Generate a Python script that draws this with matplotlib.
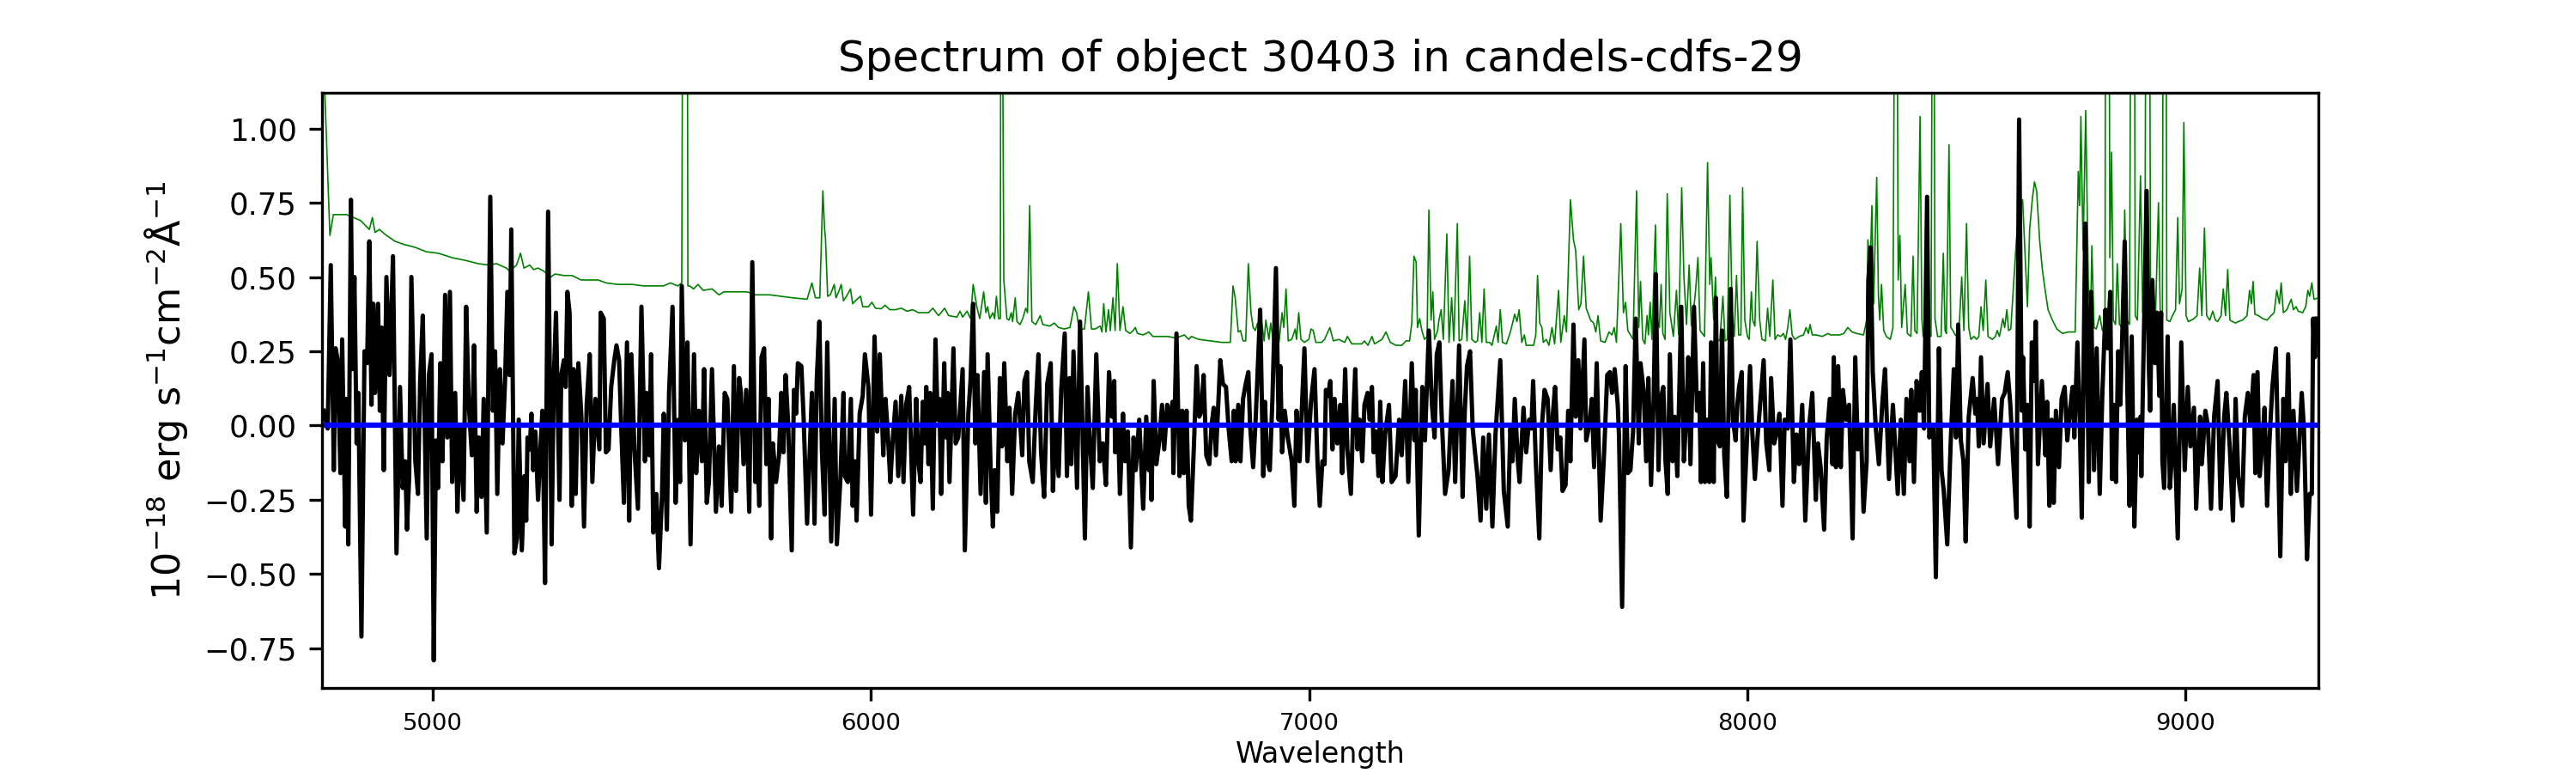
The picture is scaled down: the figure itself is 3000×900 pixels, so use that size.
import matplotlib
matplotlib.use('Agg')
import matplotlib.pyplot as plt
import numpy as np

# object spectrum (black), in 1e-18 erg/s/cm2/A
black_wave = [
    4751, 4760, 4767, 4774, 4778, 4783, 4789, 4793, 4800, 4803,
    4807, 4813, 4817, 4821, 4826, 4830, 4837, 4844, 4850, 4855,
    4860, 4864, 4868, 4875, 4879, 4883, 4888, 4894, 4901, 4909,
    4917, 4925, 4931, 4937, 4941, 4946, 4951, 4960, 4966, 4971,
    4977, 4986, 4991, 4997, 5002, 5007, 5012, 5017, 5022, 5028,
    5033, 5039, 5044, 5051, 5056, 5062, 5070, 5076, 5082, 5089,
    5094, 5100, 5105, 5111, 5116, 5123, 5131, 5137, 5142, 5147,
    5153, 5159, 5165, 5170, 5175, 5179, 5186, 5192, 5196, 5203,
    5209, 5213, 5216, 5221, 5225, 5229, 5234, 5240, 5245, 5250,
    5256, 5263, 5271, 5276, 5281, 5289, 5293, 5299, 5303, 5307,
    5312, 5317, 5321, 5326, 5332, 5339, 5345, 5351, 5358, 5364,
    5371, 5380, 5383, 5390, 5395, 5401, 5407, 5414, 5419, 5425,
    5430, 5436, 5443, 5448, 5453, 5460, 5468, 5476, 5484, 5488,
    5494, 5498, 5503, 5510, 5516, 5523, 5527, 5534, 5539, 5547,
    5554, 5560, 5564, 5568, 5575, 5581, 5588, 5596, 5601, 5607,
    5614, 5619, 5625, 5630, 5637, 5646, 5653,
    5659, 5666, 5672, 5681, 5687, 5692, 5699, 5703, 5709, 5715,
    5722, 5729, 5736, 5739, 5745, 5750, 5756, 5761, 5766, 5772,
    5776, 5783, 5790, 5795, 5800, 5805, 5811, 5819, 5824, 5829,
    5833, 5841, 5846, 5854, 5865, 5871, 5876, 5882, 5888, 5894,
    5900, 5909, 5917, 5922, 5930, 5937, 5940, 5947, 5954, 5958,
    5963, 5967, 5974, 5981, 5986, 5994, 6000, 6008, 6014, 6020,
    6028, 6033, 6038, 6044, 6049, 6056, 6062, 6069, 6074, 6080,
    6087, 6096, 6103,
    6108, 6113, 6118, 6123, 6126, 6131, 6135, 6141, 6147, 6152,
    6156, 6160, 6167, 6171, 6175, 6179, 6188, 6193, 6199, 6209,
    6214, 6222, 6227, 6233, 6238, 6243, 6250, 6258, 6262, 6266,
    6273, 6278, 6282, 6288, 6294, 6299, 6304, 6311, 6316, 6322,
    6329, 6336, 6345, 6350, 6356, 6361, 6369, 6376, 6382, 6388,
    6395, 6402, 6410, 6415, 6421, 6428, 6434, 6442, 6447, 6453,
    6457, 6462, 6470, 6477, 6488, 6494, 6499, 6506, 6514, 6522,
    6529, 6536, 6543, 6550, 6555,
    6557, 6564, 6568, 6575, 6580, 6586, 6593, 6599, 6604, 6612,
    6621, 6628, 6634, 6637, 6640, 6645, 6651, 6658, 6664, 6669,
    6676, 6681, 6688, 6690, 6697, 6704, 6710, 6714, 6720, 6725,
    6730, 6737, 6743, 6749, 6754, 6759, 6765, 6772, 6777, 6782,
    6787, 6797, 6803, 6810, 6816, 6823, 6828, 6832, 6838, 6843,
    6849, 6855, 6861, 6865, 6872, 6878, 6888, 6895, 6899, 6904,
    6910, 6916, 6924, 6930, 6934, 6938, 6944, 6951, 6960, 6966,
    6971, 6978, 6983, 6989, 6996,
    7004, 7012, 7019, 7024, 7030, 7035, 7038, 7043, 7048, 7053,
    7058, 7064, 7071, 7075, 7082, 7087, 7095, 7100, 7105, 7110,
    7115, 7121, 7126, 7133, 7138, 7143, 7147, 7153, 7158, 7162,
    7167, 7173, 7182, 7188, 7197, 7205, 7211, 7219, 7226, 7234,
    7240, 7243, 7250, 7258, 7264, 7269, 7273, 7280, 7286, 7291,
    7297, 7302, 7310, 7318, 7327, 7333, 7342, 7350, 7355, 7360,
    7367, 7373, 7379, 7384, 7391, 7397, 7404, 7410, 7418, 7425,
    7436, 7444, 7453,
    7459, 7464, 7469, 7476, 7480, 7489, 7495, 7502, 7507, 7511,
    7517, 7525, 7531, 7537, 7544, 7551, 7556, 7561, 7567, 7573,
    7578, 7585, 7591, 7596, 7603, 7608, 7614, 7619, 7628, 7632,
    7639, 7645, 7650, 7656, 7665, 7673, 7680, 7686, 7691, 7697,
    7704, 7707, 7714, 7722, 7727, 7733, 7739, 7745, 7752, 7756,
    7763, 7769, 7774, 7780, 7786, 7791, 7797, 7802, 7808, 7813,
    7818, 7823, 7829, 7834, 7840, 7849, 7855, 7861, 7865, 7870,
    7878, 7885, 7890, 7894, 7899,
    7903, 7908, 7913, 7917, 7923, 7928, 7932, 7937, 7942, 7947,
    7953, 7962, 7967, 7973, 7977, 7981, 7987, 7991, 7998, 8006,
    8011, 8017, 8023, 8030, 8037, 8043, 8050, 8054, 8061, 8067,
    8073, 8080, 8085, 8092, 8098, 8106, 8112, 8118, 8125, 8132,
    8141, 8148, 8156, 8161, 8167, 8175, 8181, 8188, 8194, 8197,
    8202, 8207, 8213, 8218, 8225, 8232, 8240, 8246, 8252, 8259,
    8265, 8272, 8276, 8281, 8286, 8293, 8300, 8308, 8314, 8323,
    8332, 8343, 8350, 8357,
    8363, 8370, 8374, 8380, 8386, 8393, 8398, 8403, 8410, 8415,
    8424, 8430, 8437, 8443, 8448, 8456, 8464, 8471, 8476, 8481,
    8487, 8493, 8498, 8505, 8514, 8520, 8524, 8528, 8533, 8539,
    8548, 8554, 8563, 8572, 8581, 8587, 8594, 8600, 8607, 8614,
    8620, 8626, 8629, 8634, 8639, 8644, 8649, 8654, 8658, 8663,
    8672, 8680, 8684, 8689, 8694, 8699, 8704, 8711, 8717, 8724,
    8730, 8736, 8742, 8746, 8753, 8758, 8763, 8771, 8779, 8784,
    8791, 8797, 8804,
    8810, 8817, 8822, 8828, 8832, 8836, 8841, 8846, 8851, 8855,
    8861, 8867, 8872, 8877, 8883, 8889, 8893, 8897, 8899, 8903,
    8911, 8916, 8919, 8924, 8930, 8935, 8940, 8944, 8947, 8951,
    8954, 8959, 8964, 8968, 8973, 8982, 8990, 8998, 9005, 9011,
    9019, 9024, 9033, 9037, 9045, 9051, 9058, 9065, 9073, 9080,
    9088, 9093, 9101, 9108, 9114, 9120, 9129, 9135, 9142, 9148,
    9155, 9159, 9164, 9169, 9174, 9180, 9186, 9191, 9198, 9206,
    9216, 9223, 9228, 9234, 9240, 9246, 9254, 9259, 9265, 9270,
    9277, 9283, 9288, 9291, 9295, 9299,
]
black_flux = [
    0.05, -0.01, 0.54, -0.15, 0.26, 0.22, -0.16, 0.29, -0.34, 0.09,
    -0.40, 0.76, 0.19, 0.50, -0.06, 0.11, -0.71, 0.25, 0.21, 0.62,
    0.07, 0.41, 0.11, 0.41, 0.05, 0.33, -0.15, 0.50, 0.17, 0.57,
    -0.43, 0.13, -0.21, -0.12, -0.35, -0.17, 0.50, -0.12, -0.23, 0.15,
    0.37, -0.38, 0.17, 0.24, -0.79, -0.05, -0.21, 0.21, -0.12, 0.44,
    -0.04, 0.45, -0.19, 0.11, -0.29, 0.00, -0.25, 0.40, 0.07, -0.10,
    0.27, -0.29, -0.04, -0.24, 0.09, -0.36, 0.77, 0.05, 0.25, -0.23,
    0.19, -0.06, 0.16, 0.45, 0.17, 0.66, -0.43, -0.38, 0.02, -0.42,
    -0.17, -0.32, -0.04, -0.08, 0.04, -0.15, -0.02, -0.25, -0.09, 0.05,
    -0.53, 0.72, -0.40, 0.16, 0.38, -0.25, 0.17, 0.22, 0.13, 0.45,
    0.38, -0.27, 0.19, -0.23, 0.21, 0.03, -0.34, 0.07, 0.24, -0.19,
    0.09, -0.08, 0.38, 0.36, -0.09, -0.08, 0.13, 0.22, 0.27, 0.22,
    -0.01, -0.26, 0.28, -0.32, 0.24, -0.08, -0.28, 0.40, -0.12, 0.11,
    -0.10, 0.24, -0.36, -0.23, -0.48, -0.23, 0.04, -0.35, 0.11, 0.40,
    -0.26, 0.02, -0.19, 0.47, -0.05, 0.28, -0.40, 0.24, -0.16, 0.05,
    -0.12, 0.19, -0.26, -0.19, 0.19, -0.29, -0.07,
    -0.27, 0.11, 0.09, -0.29, 0.20, -0.22, 0.16, 0.11, -0.13, 0.12,
    -0.29, 0.55, -0.19, -0.01, -0.27, 0.23, 0.26, -0.13, 0.09, -0.38,
    -0.06, -0.19, -0.10, 0.11, -0.09, 0.17, 0.00, -0.42, 0.12, 0.04,
    0.21, 0.20, 0.03, -0.33, 0.11, -0.33, 0.15, 0.35, -0.09, -0.30,
    0.28, -0.39, 0.09, -0.40, -0.18, 0.11, -0.17, -0.19, 0.09, -0.27,
    -0.12, -0.32, 0.04, 0.10, 0.24, 0.13, -0.30, 0.30, -0.02, 0.24,
    -0.10, 0.09, -0.02, -0.19, -0.06, 0.08, -0.17, 0.10, -0.19, 0.07,
    0.13, -0.30, 0.09,
    -0.12, -0.19, 0.08, -0.06, 0.13, -0.13, 0.11, -0.28, 0.29, 0.02,
    0.09, -0.23, 0.21, -0.04, 0.11, -0.19, 0.26, -0.06, -0.04, 0.19,
    -0.42, 0.04, 0.15, 0.41, -0.06, 0.17, -0.23, 0.18, -0.26, 0.24,
    -0.15, -0.34, -0.15, -0.29, 0.16, -0.07, 0.21, -0.12, 0.06, -0.23,
    0.04, 0.11, -0.10, 0.15, 0.18, -0.12, -0.19, 0.07, 0.24, -0.09,
    -0.24, 0.14, 0.21, -0.22, 0.00, -0.17, 0.12, 0.31, -0.17, 0.16,
    -0.13, 0.25, -0.21, 0.35, -0.38, 0.13, -0.04, -0.21, 0.24, -0.12,
    -0.06, -0.20, 0.18, 0.03, 0.15,
    -0.09, -0.01, -0.23, 0.04, -0.12, -0.02, -0.41, -0.04, -0.15, 0.02,
    -0.28, 0.03, -0.15, -0.01, -0.25, 0.15, -0.13, -0.05, 0.07, -0.08,
    0.07, 0.00, 0.08, -0.16, 0.31, -0.17, 0.05, -0.16, 0.05, -0.27,
    -0.32, -0.06, 0.20, 0.03, 0.05, 0.17, -0.10, -0.13, 0.00, 0.06,
    -0.10, 0.22, 0.14, 0.13, -0.01, -0.12, 0.05, -0.12, 0.07, -0.12,
    0.09, 0.14, 0.18, 0.00, -0.14, 0.03, 0.39, -0.17, 0.08, -0.12,
    -0.15, 0.09, 0.53, 0.02, 0.20, -0.09, 0.05, -0.04, -0.12, -0.27,
    0.05, -0.12, 0.05, 0.26, -0.12,
    0.08, 0.19, -0.13, -0.27, -0.12, -0.13, 0.12, 0.10, 0.15, -0.08,
    0.09, -0.06, 0.07, -0.16, 0.19, -0.08, -0.23, 0.01, 0.19, -0.08,
    0.02, -0.12, 0.07, 0.11, 0.02, 0.13, -0.09, -0.02, -0.17, 0.08,
    -0.19, -0.03, 0.07, -0.19, -0.17, 0.02, -0.10, 0.15, -0.19, 0.21,
    -0.05, 0.12, -0.37, 0.13, -0.05, 0.16, 0.32, 0.07, -0.04, 0.24,
    0.28, 0.04, -0.23, -0.15, 0.15, -0.19, 0.27, -0.24, 0.05, 0.20,
    0.25, -0.01, -0.10, -0.17, -0.32, -0.04, -0.28, -0.03, -0.34, -0.03,
    0.22, -0.22, -0.34,
    -0.01, -0.12, 0.09, -0.12, -0.19, 0.06, -0.09, 0.02, -0.01, 0.15,
    -0.12, -0.38, 0.00, 0.12, 0.09, -0.15, 0.04, 0.13, -0.08, -0.04,
    -0.22, -0.20, 0.05, -0.12, 0.34, 0.03, 0.22, -0.01, 0.29, -0.05,
    0.00, 0.09, -0.14, 0.21, -0.32, -0.09, 0.17, 0.18, 0.11, 0.19,
    0.07, -0.04, -0.61, 0.20, -0.16, -0.15, -0.02, 0.36, -0.06, 0.21,
    0.12, -0.12, 0.16, -0.20, 0.09, 0.51, -0.15, 0.09, 0.13, -0.12,
    -0.23, 0.24, -0.12, 0.03, -0.17, 0.40, -0.12, 0.05, 0.23, -0.13,
    0.40, 0.05, 0.11, -0.19, 0.21,
    -0.19, 0.02, -0.19, 0.28, -0.19, 0.43, -0.05, -0.07, 0.32, -0.10,
    -0.24, 0.46, 0.02, -0.05, 0.07, 0.13, 0.18, -0.32, -0.08, 0.20,
    -0.02, -0.18, -0.04, 0.09, 0.22, -0.06, -0.15, 0.16, -0.06, -0.02,
    0.04, -0.27, 0.02, -0.01, 0.29, -0.19, -0.03, -0.13, 0.07, -0.32,
    0.00, 0.11, -0.25, -0.06, -0.14, -0.35, -0.04, 0.09, -0.13, 0.23,
    -0.14, 0.20, -0.14, 0.12, 0.02, 0.07, -0.38, 0.23, -0.08, -0.01,
    -0.29, -0.12, 0.49, 0.60, 0.18, -0.01, -0.13, 0.08, 0.19, -0.18,
    0.07, -0.23, 0.02, -0.23,
    0.09, -0.12, 0.12, -0.19, 0.15, 0.05, 0.18, -0.01, 0.77, -0.04,
    0.00, -0.51, 0.26, -0.15, -0.22, -0.40, -0.05, 0.19, -0.04, 0.34,
    -0.05, -0.12, -0.39, 0.03, 0.16, 0.04, 0.09, -0.07, 0.23, -0.06,
    0.14, -0.07, 0.09, -0.13, 0.09, 0.11, 0.18, 0.07, -0.13, -0.31,
    1.03, 0.05, 0.23, -0.08, 0.07, -0.34, 0.28, 0.15, 0.35, -0.13,
    0.15, -0.10, 0.08, -0.27, 0.02, -0.26, 0.05, -0.14, 0.09, 0.13,
    -0.05, 0.05, 0.13, -0.04, 0.28, 0.04, -0.31, 0.68, -0.19, 0.45,
    -0.15, 0.26, -0.23,
    0.11, 0.39, 0.26, 0.45, -0.18, 0.07, -0.19, 0.25, 0.07, 0.28,
    0.62, 0.12, -0.27, 0.30, -0.34, 0.02, -0.09, 0.03, -0.17, 0.17,
    0.79, 0.20, 0.05, 0.49, 0.21, 0.38, 0.10, 0.38, -0.12, -0.21,
    -0.04, 0.30, -0.21, -0.12, 0.07, -0.38, 0.28, -0.15, 0.13, -0.07,
    0.06, -0.28, 0.03, -0.13, 0.05, 0.00, -0.28, 0.03, 0.15, -0.28,
    0.03, 0.11, -0.08, -0.32, 0.09, -0.17, -0.27, 0.03, 0.11, 0.00,
    0.17, -0.16, 0.18, -0.17, -0.08, 0.06, -0.27, -0.06, 0.13, 0.26,
    -0.44, 0.09, -0.12, 0.24, -0.23, 0.05, -0.22, -0.07, 0.11, -0.01,
    -0.45, -0.23, -0.23, 0.36, 0.23, 0.36,
]

# noise / sky spectrum (green)
noise_wave = [
    4747, 4753, 4765, 4773, 4803, 4819, 4835, 4855, 4862, 4868,
    4878, 4894, 4914, 4933, 4959, 4985, 5012, 5044, 5077, 5103,
    5129, 5145, 5168, 5175, 5191, 5200, 5208, 5221, 5230, 5240,
    5253, 5269, 5279, 5299, 5318, 5338, 5357, 5377, 5396, 5422,
    5455, 5481, 5500, 5526, 5542, 5559, 5568, 5573, 5579, 5582,
    5586, 5595, 5605, 5617, 5637, 5653, 5664, 5691, 5717, 5736,
    5769, 5795, 5821, 5854, 5865, 5873, 5883, 5890, 5894, 5896,
    5901, 5907, 5916, 5920, 5926, 5932, 5937, 5944, 5953, 5958,
    5968, 5976, 5981, 5994, 6002, 6010, 6023, 6032, 6043, 6056,
    6069, 6082, 6095, 6108, 6115, 6131, 6141, 6154, 6168, 6177,
    6196, 6203, 6209, 6219, 6227, 6233, 6242, 6248, 6257, 6262,
    6266, 6271, 6278, 6282, 6286, 6291, 6295, 6297, 6300, 6303,
    6310, 6315, 6320, 6323, 6329, 6333, 6340, 6346, 6353, 6357,
    6362, 6367, 6376, 6386, 6392, 6408, 6418, 6428, 6441, 6454,
    6463, 6469, 6475, 6487, 6496, 6503, 6511, 6523, 6527, 6531,
    6536, 6542, 6546, 6552, 6557, 6562, 6568, 6575, 6581, 6591,
    6598, 6603, 6608, 6621, 6634, 6643, 6666, 6676, 6696, 6715,
    6725, 6731, 6748, 6774, 6800, 6820, 6826, 6831, 6838, 6843,
    6849, 6855, 6861, 6867, 6872, 6877, 6882, 6887, 6891, 6897,
    6901, 6908, 6912, 6918, 6924, 6931, 6938, 6942, 6947, 6952,
    6960, 6968, 6971, 6976, 6981, 6989, 6999, 7004, 7009, 7015,
    7028, 7035, 7047, 7055, 7068, 7081, 7087, 7097, 7120, 7126,
    7134, 7143, 7149, 7166, 7175, 7185, 7198, 7211, 7221, 7229,
    7234, 7239, 7244, 7247, 7252, 7257, 7263, 7269, 7273, 7278,
    7282, 7286, 7293, 7296, 7301, 7306, 7314, 7319, 7325, 7330,
    7338, 7342, 7348, 7355, 7360, 7366, 7371, 7379, 7384, 7389,
    7394, 7399, 7404, 7412, 7417, 7427, 7431, 7436, 7441, 7450,
    7459, 7469, 7474, 7479, 7485, 7491, 7495, 7512, 7517, 7521,
    7526, 7531, 7534, 7541, 7547, 7554, 7560, 7569, 7574, 7582,
    7587, 7596, 7603, 7608, 7615, 7620, 7626, 7632, 7642, 7649,
    7654, 7659, 7665, 7675, 7684, 7691, 7696, 7701, 7711, 7717,
    7722, 7727, 7733, 7739, 7747, 7752, 7756, 7761, 7766, 7771,
    7774, 7778, 7782, 7786, 7790, 7794, 7799, 7803, 7807, 7812,
    7817, 7823, 7831, 7838, 7843, 7850, 7855, 7861, 7867, 7872,
    7879, 7882, 7887, 7892, 7902, 7909, 7914, 7917, 7923, 7927,
    7931, 7937, 7944, 7949, 7954, 7960, 7965, 7970, 7975, 7980,
    7985, 7989, 7994, 8000, 8004, 8009, 8012, 8017, 8022, 8028,
    8033, 8041, 8046, 8051, 8058, 8063, 8069, 8076, 8082, 8087,
    8092, 8097, 8102, 8108, 8118, 8128, 8134, 8139, 8143, 8148,
    8157, 8171, 8184, 8190, 8200, 8210, 8220, 8229, 8239, 8249,
    8265, 8272, 8275, 8280, 8284, 8288, 8295, 8299, 8302, 8306,
    8311, 8317, 8326, 8332, 8339, 8344, 8348, 8352, 8360, 8365,
    8373, 8378, 8382, 8387, 8394, 8398, 8401, 8406, 8412, 8419,
    8424, 8428, 8434, 8442, 8447, 8451, 8454, 8460, 8464, 8469,
    8474, 8479, 8484, 8489, 8494, 8500, 8505, 8510, 8517, 8523,
    8528, 8533, 8538, 8544, 8549, 8559, 8566, 8570, 8575, 8583,
    8587, 8592, 8596, 8601, 8609, 8614, 8620, 8628, 8639, 8644,
    8650, 8655, 8660, 8667, 8673, 8680, 8686, 8696, 8706, 8719,
    8732, 8748, 8755, 8758, 8761, 8766, 8772, 8778, 8783, 8786,
    8791, 8796, 8804, 8810, 8816, 8818, 8824, 8827, 8831, 8835,
    8840, 8844, 8849, 8856, 8861, 8866, 8872, 8877, 8882, 8885,
    8890, 8897, 8902, 8907, 8911, 8916, 8920, 8925, 8931, 8938,
    8942, 8947, 8950, 8954, 8957, 8964, 8970, 8977, 8982, 8986,
    8992, 8996, 9001, 9006, 9013, 9019, 9026, 9032, 9037, 9043,
    9048, 9055, 9062, 9068, 9073, 9081, 9086, 9091, 9096, 9101,
    9107, 9114, 9120, 9130, 9140, 9146, 9150, 9154, 9158, 9166,
    9176, 9186, 9195, 9202, 9208, 9214, 9218, 9223, 9231, 9241,
    9246, 9252, 9257, 9267, 9274, 9279, 9283, 9288, 9293, 9303,
]
noise_flux = [
    1.60, 1.14, 0.64, 0.71, 0.71, 0.70, 0.69, 0.66, 0.70, 0.65,
    0.66, 0.64, 0.62, 0.61, 0.60, 0.585, 0.58, 0.565, 0.555, 0.545,
    0.54, 0.545, 0.53, 0.52, 0.54, 0.58, 0.53, 0.54, 0.525, 0.53,
    0.52, 0.50, 0.51, 0.505, 0.505, 0.49, 0.49, 0.49, 0.48, 0.475,
    0.475, 0.47, 0.47, 0.47, 0.48, 0.47, 0.48, 3.0, 3.0, 0.47,
    0.47, 0.46, 0.475, 0.455, 0.46, 0.44, 0.45, 0.45, 0.45, 0.44,
    0.44, 0.435, 0.43, 0.425, 0.48, 0.43, 0.43, 0.79, 0.66, 0.63,
    0.435, 0.44, 0.475, 0.43, 0.45, 0.475, 0.42, 0.435, 0.46, 0.41,
    0.425, 0.435, 0.40, 0.40, 0.415, 0.395, 0.393, 0.405, 0.39, 0.39,
    0.395, 0.385, 0.39, 0.38, 0.38, 0.38, 0.395, 0.37, 0.395, 0.37,
    0.365, 0.385, 0.365, 0.385, 0.36, 0.475, 0.395, 0.36, 0.45, 0.38,
    0.40, 0.36, 0.38, 0.36, 0.435, 0.36, 0.36, 2.5, 1.4, 0.49,
    0.36, 0.355, 0.38, 0.35, 0.43, 0.35, 0.34, 0.36, 0.395, 0.38,
    0.74, 0.35, 0.34, 0.37, 0.34, 0.335, 0.345, 0.33, 0.325, 0.33,
    0.40, 0.38, 0.325, 0.325, 0.45, 0.325, 0.325, 0.335, 0.315, 0.41,
    0.315, 0.39, 0.32, 0.43, 0.32, 0.545, 0.32, 0.40, 0.32, 0.31,
    0.32, 0.33, 0.31, 0.305, 0.315, 0.30, 0.30, 0.30, 0.295, 0.305,
    0.29, 0.30, 0.29, 0.285, 0.28, 0.28, 0.47, 0.43, 0.315, 0.32,
    0.285, 0.285, 0.545, 0.38, 0.33, 0.32, 0.345, 0.29, 0.355, 0.285,
    0.355, 0.29, 0.345, 0.285, 0.395, 0.28, 0.38, 0.33, 0.46, 0.285,
    0.29, 0.325, 0.29, 0.38, 0.29, 0.28, 0.29, 0.325, 0.32, 0.28,
    0.28, 0.29, 0.33, 0.285, 0.29, 0.28, 0.30, 0.275, 0.275, 0.285,
    0.27, 0.30, 0.275, 0.29, 0.315, 0.28, 0.27, 0.27, 0.285, 0.285,
    0.345, 0.57, 0.55, 0.33, 0.36, 0.32, 0.29, 0.30, 0.725, 0.355,
    0.45, 0.29, 0.32, 0.355, 0.39, 0.29, 0.645, 0.28, 0.43, 0.285,
    0.68, 0.285, 0.29, 0.42, 0.285, 0.57, 0.29, 0.28, 0.285, 0.38,
    0.28, 0.46, 0.28, 0.28, 0.27, 0.335, 0.28, 0.39, 0.28, 0.275,
    0.315, 0.375, 0.35, 0.39, 0.28, 0.305, 0.27, 0.27, 0.305, 0.505,
    0.345, 0.33, 0.28, 0.29, 0.27, 0.33, 0.275, 0.455, 0.28, 0.37,
    0.315, 0.76, 0.625, 0.59, 0.39, 0.41, 0.57, 0.395, 0.355, 0.345,
    0.315, 0.37, 0.285, 0.28, 0.315, 0.305, 0.33, 0.28, 0.68, 0.38,
    0.415, 0.32, 0.305, 0.29, 0.79, 0.33, 0.485, 0.29, 0.275, 0.37,
    0.305, 0.415, 0.29, 0.475, 0.675, 0.355, 0.33, 0.475, 0.31, 0.29,
    0.78, 0.38, 0.30, 0.455, 0.305, 0.80, 0.50, 0.34, 0.54, 0.335,
    0.415, 0.46, 0.565, 0.32, 0.30, 0.885, 0.475, 0.565, 0.355, 0.50,
    0.29, 0.285, 0.435, 0.285, 0.29, 0.775, 0.38, 0.30, 0.505, 0.305,
    0.305, 0.80, 0.355, 0.30, 0.29, 0.45, 0.355, 0.335, 0.62, 0.355,
    0.29, 0.285, 0.395, 0.30, 0.49, 0.29, 0.305, 0.30, 0.31, 0.29,
    0.33, 0.39, 0.305, 0.29, 0.30, 0.305, 0.33, 0.31, 0.34, 0.305,
    0.305, 0.30, 0.31, 0.305, 0.305, 0.305, 0.31, 0.33, 0.315, 0.31,
    0.305, 0.355, 0.625, 0.515, 0.74, 0.41, 0.835, 0.435, 0.355, 0.475,
    0.32, 0.30, 0.29, 0.33, 2.5, 0.49, 0.64, 0.33, 0.475, 0.31,
    0.30, 0.57, 0.32, 0.31, 1.04, 0.36, 0.30, 0.30, 0.31, 0.30,
    2.5, 0.36, 0.30, 0.30, 0.58, 0.32, 0.31, 0.945, 0.33, 0.32,
    0.305, 0.30, 0.355, 0.50, 0.32, 0.68, 0.33, 0.29, 0.30, 0.29,
    0.30, 0.40, 0.32, 0.49, 0.30, 0.29, 0.30, 0.32, 0.30, 0.36,
    0.33, 0.39, 0.32, 0.325, 0.51, 0.63, 0.72, 0.76, 0.40, 0.66,
    0.76, 0.82, 0.79, 0.62, 0.525, 0.45, 0.39, 0.355, 0.325, 0.31,
    0.315, 0.315, 0.855, 0.74, 1.04, 0.59, 1.06, 0.475, 0.355, 0.605,
    0.33, 0.325, 0.37, 0.32, 0.33, 2.5, 2.5, 0.565, 0.92, 0.355,
    0.34, 0.545, 0.34, 0.33, 0.725, 0.355, 0.34, 2.5, 2.5, 0.37,
    0.355, 0.84, 0.38, 0.41, 2.5, 2.5, 0.38, 0.37, 0.355, 0.75,
    0.38, 0.37, 2.5, 2.5, 0.355, 0.35, 0.37, 0.39, 0.70, 0.41,
    0.46, 1.02, 0.37, 0.35, 0.355, 0.36, 0.37, 0.53, 0.37, 0.665,
    0.37, 0.355, 0.385, 0.355, 0.35, 0.37, 0.46, 0.37, 0.525, 0.355,
    0.35, 0.345, 0.35, 0.355, 0.37, 0.455, 0.41, 0.485, 0.375, 0.37,
    0.36, 0.355, 0.37, 0.38, 0.455, 0.41, 0.48, 0.38, 0.39, 0.425,
    0.39, 0.40, 0.385, 0.38, 0.40, 0.455, 0.435, 0.48, 0.425, 0.43,
]

zero_level = 0.0
wave_ticks = [5000, 6000, 7000, 8000, 9000]
flux_ticks = [-0.75, -0.50, -0.25, 0.00, 0.25, 0.50, 0.75, 1.00]

fig, ax = plt.subplots(figsize=(10, 3), dpi=300)

ax.plot(noise_wave, noise_flux, color='g', lw=0.4)
ax.plot(black_wave, black_flux, color='k', lw=1.2)
ax.axhline(zero_level, color='b', lw=1.5)

ax.set_xlim(4747, 9303)
ax.set_ylim(-0.883, 1.12)
ax.set_xticks(wave_ticks)
ax.set_yticks(flux_ticks)
ax.tick_params(axis='x', labelsize=6.6)
ax.tick_params(axis='y', labelsize=8.5)

ax.set_xlabel('Wavelength', fontsize=8, labelpad=1.5)
ax.set_ylabel(r'$10^{-18}$ erg s$^{-1}$cm$^{-2}$Å$^{-1}$', fontsize=10.7)
ax.set_title('Spectrum of object 30403 in candels-cdfs-29', fontsize=12)

fig.savefig('out.png', dpi=300)
